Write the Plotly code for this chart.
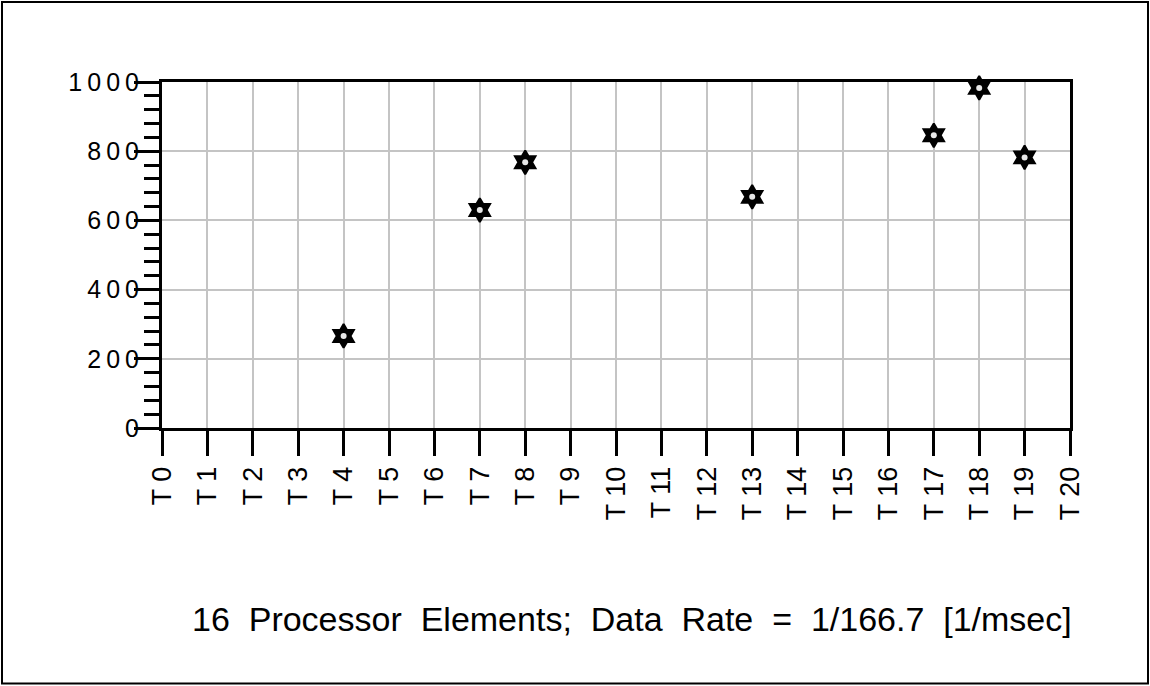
import plotly.graph_objects as go

# ---- data ----
time_steps = [4, 7, 8, 13, 17, 18, 19]
values = [266, 630, 768, 668, 846, 983, 782]

x_tick_vals = list(range(21))
x_tick_labels = ["T 0", "T 1", "T 2", "T 3", "T 4", "T 5", "T 6", "T 7", "T 8", "T 9",
                 "T 10", "T 11", "T 12", "T 13", "T 14", "T 15", "T 16", "T 17",
                 "T 18", "T 19", "T 20"]
y_tick_vals = [0, 200, 400, 600, 800, 1000]
y_tick_labels = ["0", "2\u20090\u20090", "4\u20090\u20090", "6\u20090\u20090",
                 "8\u20090\u20090", "1\u20090\u20090\u20090"]
caption = ("16 \u00a0Processor \u00a0Elements; \u00a0Data \u00a0Rate \u00a0= "
           "\u00a01/166.7 \u00a0[1/msec]")

FONT = "Liberation Sans, Arial, Helvetica, sans-serif"

fig = go.Figure()
fig.add_trace(go.Scatter(
    x=time_steps, y=values, mode="markers",
    marker=dict(symbol="hexagram", size=18, color="black",
                line=dict(color="black", width=2)),
    showlegend=False, cliponaxis=False,
))
fig.add_trace(go.Scatter(
    x=time_steps, y=values, mode="markers",
    marker=dict(symbol="circle", size=6, color="#e8e8e8",
                line=dict(width=0)),
    showlegend=False, cliponaxis=False,
))

L, R, T, B = 162, 80, 82, 258
W, H = 1150, 686
pw, ph = W - L - R, H - T - B

def px_to_paper_x(px):
    return (px - L) / pw

def px_to_paper_y(py):
    return (H - B - py) / ph

fig.update_layout(
    width=W, height=H,
    margin=dict(l=L, r=R, t=T, b=B),
    paper_bgcolor="white", plot_bgcolor="white",
    font=dict(family=FONT, color="black"),
    xaxis=dict(
        range=[0, 20], tickmode="array", tickvals=x_tick_vals, ticktext=x_tick_labels,
        tickangle=-90, ticks="outside", ticklen=25, tickwidth=3, tickcolor="black",
        tickfont=dict(size=27, family=FONT, color="black"),
        showgrid=True, gridcolor="#c4c4c4", gridwidth=2,
        showline=True, linecolor="black", linewidth=3, mirror=True,
        zeroline=False, fixedrange=True,
    ),
    yaxis=dict(
        range=[0, 1000], tickmode="array", tickvals=y_tick_vals, ticktext=y_tick_labels,
        ticks="outside", ticklen=25, tickwidth=3, tickcolor="black",
        tickfont=dict(size=25, family=FONT, color="black"),
        ticklabelstandoff=-10,
        showgrid=True, gridcolor="#c4c4c4", gridwidth=2,
        showline=True, linecolor="black", linewidth=3, mirror=True,
        zeroline=False, fixedrange=True,
        minor=dict(dtick=40, tick0=0, ticks="outside", ticklen=15, tickwidth=3,
                   tickcolor="black", showgrid=False),
    ),
    shapes=[dict(
        type="rect", xref="paper", yref="paper",
        x0=px_to_paper_x(2), x1=px_to_paper_x(1148),
        y0=px_to_paper_y(683.5), y1=px_to_paper_y(2),
        line=dict(color="black", width=2), fillcolor="rgba(0,0,0,0)", layer="below",
    )],
    annotations=[dict(
        text=caption, xref="paper", yref="paper",
        x=px_to_paper_x(632), y=px_to_paper_y(619),
        xanchor="center", yanchor="middle", showarrow=False,
        font=dict(size=34, family=FONT, color="black"),
    )],
)

fig.write_html(
    "out.html",
    config={"displayModeBar": False},
    post_script="document.body.style.margin='0';document.body.style.overflow='hidden';",
)
